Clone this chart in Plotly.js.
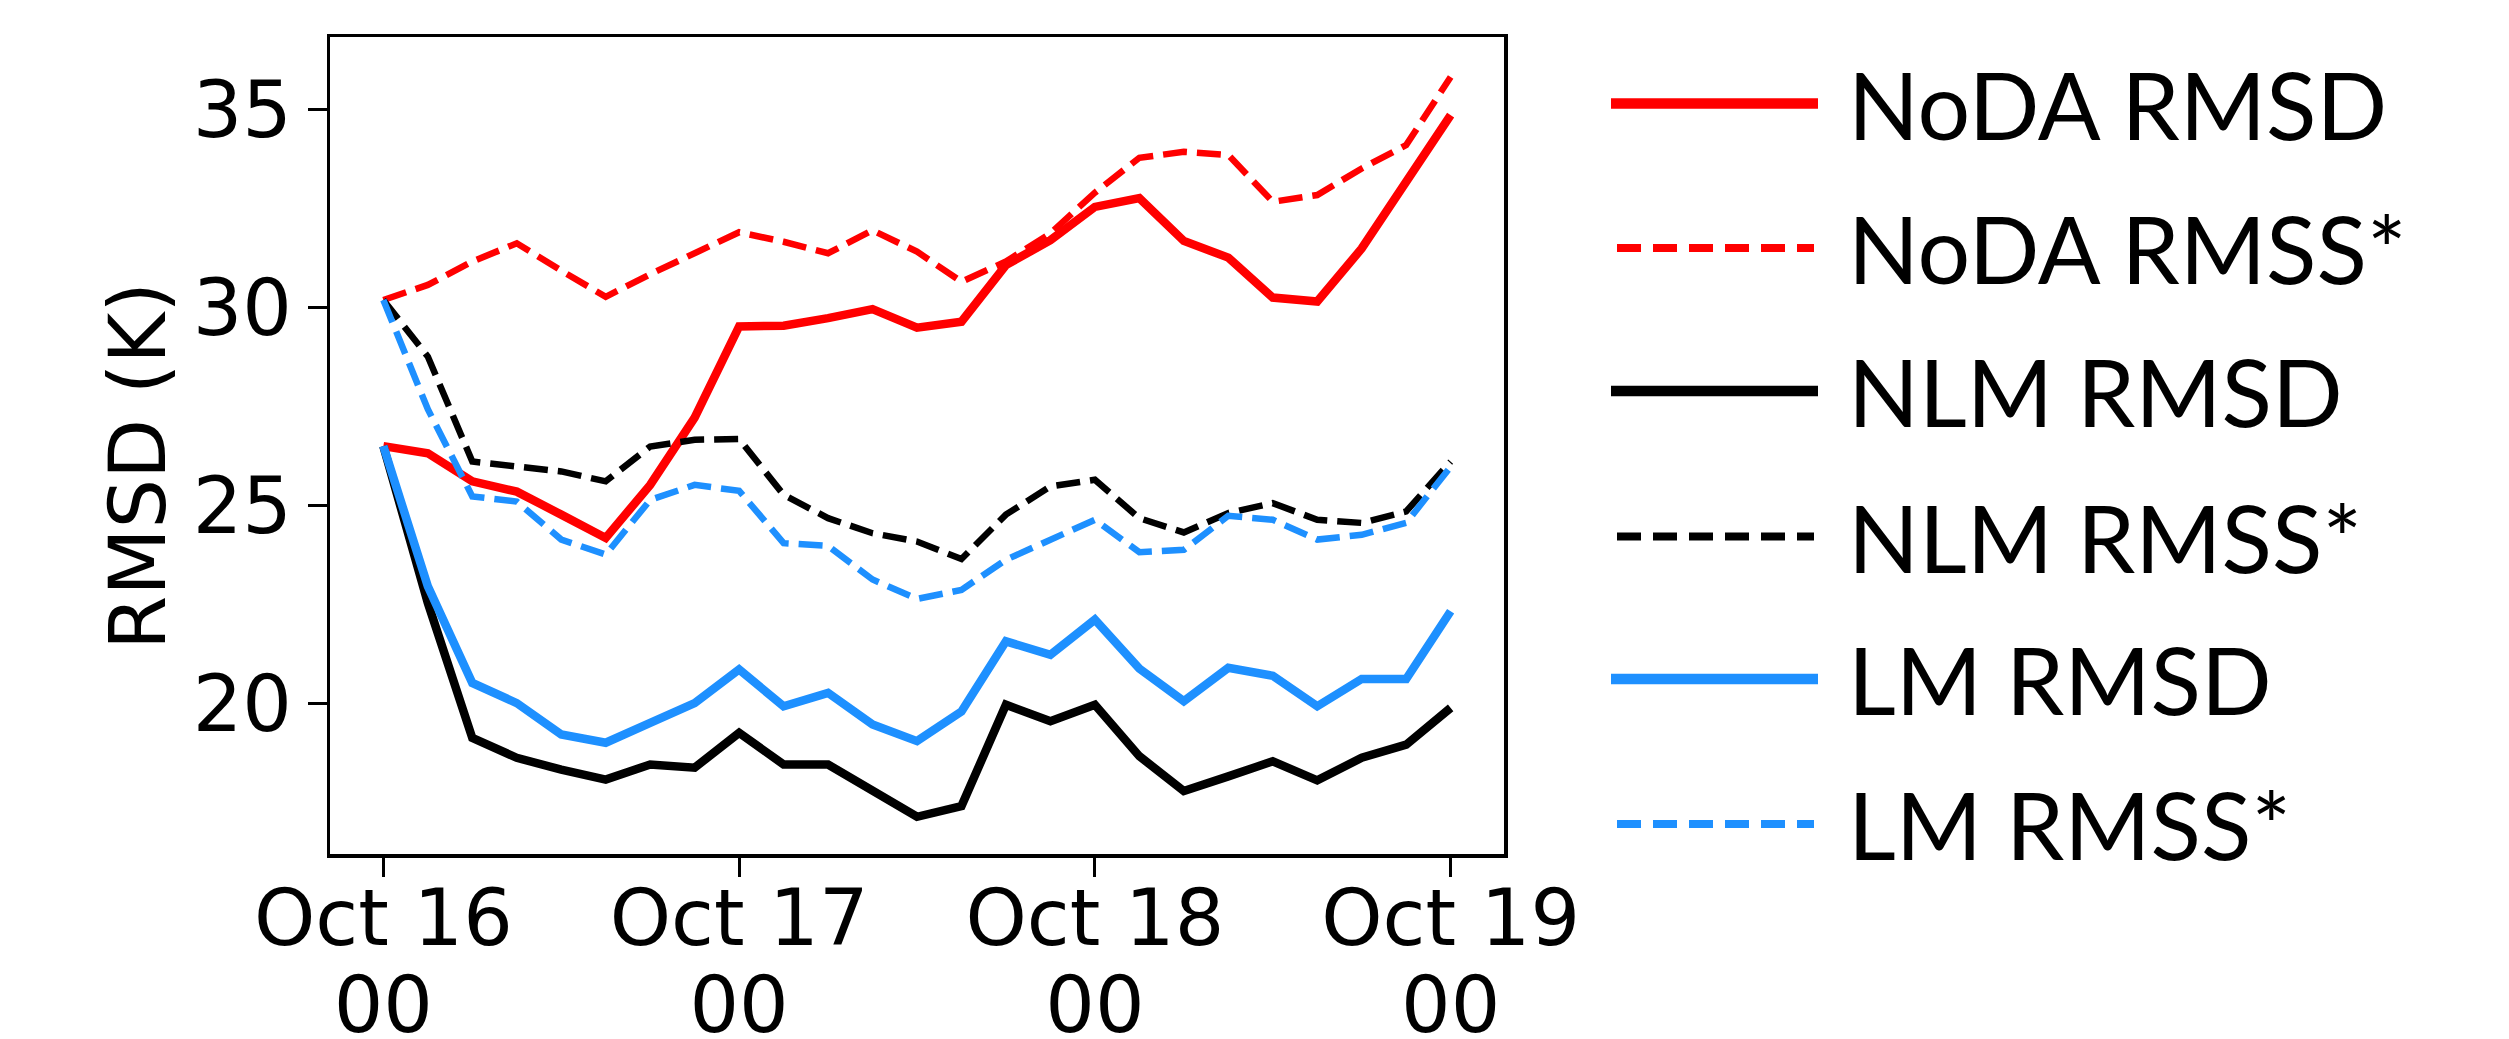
<!DOCTYPE html>
<html>
<head>
<meta charset="utf-8">
<script src="https://cdn.plot.ly/plotly-3.0.1.min.js"></script>
<style>
html, body { margin: 0; padding: 0; background: #ffffff; }
#chart { width: 2509px; height: 1039px; }
</style>
</head>
<body>
<div id="chart"></div>
<script>
// ---- data (hours since Oct 16 00 UTC, 3-hourly) ----
const hours = [0, 3, 6, 9, 12, 15, 18, 21, 24, 27, 30, 33, 36, 39, 42, 45, 48, 51, 54, 57, 60, 63, 66, 69, 72];
const tickHours = [0, 24, 48, 72];
const tickDayLabels = ['Oct 16', 'Oct 17', 'Oct 18', 'Oct 19'];
const tickHourLabels = ['00', '00', '00', '00'];
const yTickValues = [20, 25, 30, 35];

const seriesNames = ['NoDA RMSD', 'NoDA RMSS*', 'NLM RMSD', 'NLM RMSS*', 'LM RMSD', 'LM RMSS*'];

const nodaRMSD = [26.50, 26.32, 25.61, 25.35, 24.77, 24.18, 25.52, 27.22, 29.52, 29.54, 29.73, 29.96, 29.49, 29.64, 31.07, 31.70, 32.54, 32.76, 31.68, 31.26, 30.25, 30.15, 31.49, 33.17, 34.86];
const nodaRMSS = [30.19, 30.57, 31.16, 31.62, 30.93, 30.27, 30.84, 31.37, 31.90, 31.66, 31.37, 31.95, 31.41, 30.65, 31.16, 31.87, 32.90, 33.78, 33.93, 33.85, 32.67, 32.84, 33.51, 34.10, 35.82];
const nlmRMSD  = [26.50, 22.54, 19.13, 18.63, 18.33, 18.08, 18.46, 18.38, 19.26, 18.46, 18.46, 17.83, 17.14, 17.41, 19.97, 19.55, 19.97, 18.67, 17.79, 18.16, 18.54, 18.06, 18.63, 18.96, 19.89];
const nlmRMSS  = [30.19, 28.76, 26.11, 25.98, 25.86, 25.61, 26.49, 26.66, 26.68, 25.27, 24.68, 24.30, 24.09, 23.65, 24.77, 25.48, 25.65, 24.68, 24.32, 24.81, 25.06, 24.64, 24.56, 24.85, 26.11];
const lmRMSD   = [26.50, 22.96, 20.52, 20.01, 19.22, 19.01, 19.51, 20.01, 20.86, 19.93, 20.27, 19.47, 19.05, 19.80, 21.57, 21.23, 22.12, 20.88, 20.06, 20.90, 20.70, 19.93, 20.62, 20.62, 22.33];
const lmRMSS   = [30.19, 27.43, 25.23, 25.10, 24.14, 23.76, 25.14, 25.52, 25.37, 24.05, 23.98, 23.13, 22.64, 22.87, 23.63, 24.14, 24.64, 23.82, 23.88, 24.74, 24.64, 24.14, 24.26, 24.56, 25.98];

const seriesValues = [nodaRMSD, nodaRMSS, nlmRMSD, nlmRMSS, lmRMSD, lmRMSS];
const seriesColors = ['#ff0000', '#ff0000', '#000000', '#000000', '#1e90ff', '#1e90ff'];
const seriesDashed = [false, true, false, true, false, true];

// ---- layout geometry (pixels) ----
const W = 2509, H = 1039;
const M = { l: 330, r: 1005, t: 37, b: 185 };
const plotW = W - M.l - M.r, plotH = H - M.t - M.b;
const px2x = px => (px - M.l) / plotW;
const py2y = py => 1 - (py - M.t) / plotH;

const SOLID_W = 8.5, DASH_W = 6.5, PLOT_DASH = '24px,10px';

const traces = seriesValues.map((vals, i) => ({
  type: 'scatter',
  mode: 'lines',
  name: seriesNames[i],
  x: hours,
  y: vals,
  xaxis: seriesDashed[i] ? 'x2' : 'x',
  line: {
    color: seriesColors[i],
    width: seriesDashed[i] ? DASH_W : SOLID_W,
    dash: seriesDashed[i] ? PLOT_DASH : 'solid'
  },
  showlegend: false,
  hoverinfo: 'x+y+name'
}));

// ---- hand-drawn legend (long line samples like the reference) ----
const legendRowY = [103.5, 248, 391, 536.5, 679, 824];
const shapes = [];
const annotations = [];
seriesNames.forEach((nm, i) => {
  const dashed = seriesDashed[i];
  shapes.push({
    type: 'line', xref: 'paper', yref: 'paper',
    x0: px2x(dashed ? 1617 : 1611), x1: px2x(dashed ? 1814 : 1818),
    y0: py2y(legendRowY[i]), y1: py2y(legendRowY[i]),
    line: { color: seriesColors[i], width: dashed ? 8 : 10.5, dash: dashed ? '24px,12px' : 'solid' }
  });
  annotations.push({
    xref: 'paper', yref: 'paper',
    x: px2x(1846), y: py2y(legendRowY[i]),
    xanchor: 'left', yanchor: 'middle',
    text: nm, showarrow: false,
    font: { family: 'Lato, "Open Sans", sans-serif', size: 93, color: '#000000' }
  });
});
// y-axis label
annotations.push({
  xref: 'paper', yref: 'paper',
  x: px2x(138), y: py2y(466),
  xanchor: 'center', yanchor: 'middle',
  text: 'RMSD (K)', textangle: -90, showarrow: false,
  font: { family: '"DejaVu Sans", sans-serif', size: 78, color: '#000000' }
});

const tickFont = { family: '"DejaVu Sans", sans-serif', size: 78, color: '#000000' };
const xRange = [-3.6, 75.6];
const yRange = [16.2, 36.83];

const layout = {
  width: W, height: H,
  margin: M,
  paper_bgcolor: '#ffffff',
  plot_bgcolor: '#ffffff',
  showlegend: false,
  xaxis: {
    range: xRange,
    tickmode: 'array', tickvals: tickHours, ticktext: tickDayLabels,
    ticks: 'outside', ticklen: 19, tickwidth: 3, tickcolor: '#000000',
    showline: true, linewidth: 3.5, linecolor: '#000000', mirror: true,
    showgrid: false, zeroline: false,
    tickfont: tickFont, tickangle: 0,
    ticklabelstandoff: -25
  },
  xaxis2: {
    range: xRange, overlaying: 'x', anchor: 'y', side: 'bottom',
    tickmode: 'array', tickvals: tickHours, ticktext: tickHourLabels,
    ticks: '', showline: false, showgrid: false, zeroline: false,
    tickfont: tickFont, tickangle: 0,
    ticklabelstandoff: 99
  },
  yaxis: {
    range: yRange,
    tickmode: 'array', tickvals: yTickValues,
    ticks: 'outside', ticklen: 19, tickwidth: 3, tickcolor: '#000000',
    showline: true, linewidth: 3.5, linecolor: '#000000', mirror: true,
    showgrid: false, zeroline: false,
    tickfont: tickFont
  },
  shapes: shapes,
  annotations: annotations
};

Plotly.newPlot('chart', traces, layout, { staticPlot: true, displayModeBar: false });
</script>
</body>
</html>
